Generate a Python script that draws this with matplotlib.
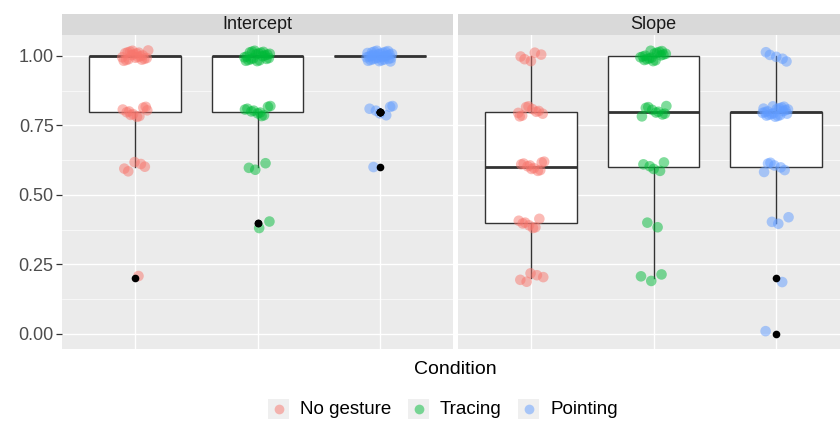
import numpy as np
import matplotlib
matplotlib.use("Agg")
import matplotlib.pyplot as plt
from matplotlib.patches import Rectangle
from matplotlib.lines import Line2D

plt.rcParams['font.family'] = ['Liberation Sans', 'DejaVu Sans']

# ---------------- data ----------------
conditions = ["No gesture", "Tracing", "Pointing"]
panels = ["Intercept", "Slope"]
score_levels = [0.0, 0.2, 0.4, 0.6, 0.8, 1.0]
# number of participants at each score level (same order as score_levels)
intercept_no_gesture = [0, 1, 0, 5, 10, 20]
intercept_tracing = [0, 0, 2, 3, 10, 21]
intercept_pointing = [0, 0, 0, 1, 6, 29]
slope_no_gesture = [0, 5, 7, 10, 9, 5]
slope_tracing = [0, 3, 2, 5, 9, 17]
slope_pointing = [1, 1, 3, 6, 20, 5]
y_ticks = [0.0, 0.25, 0.5, 0.75, 1.0]
y_tick_labels = ["0.00", "0.25", "0.50", "0.75", "1.00"]
colors = ["#F8766D", "#00BA38", "#619CFF"]

panel_counts = {
    "Intercept": [intercept_no_gesture, intercept_tracing, intercept_pointing],
    "Slope": [slope_no_gesture, slope_tracing, slope_pointing],
}

# ---------------- figure ----------------
W, H = 840, 421
fig = plt.figure(figsize=(W / 100, H / 100), dpi=100)
fig.patch.set_facecolor("white")


def fx(px):
    return px / W


def fy(py):
    return 1 - py / H


panel_left = [62, 458]
panel_w = 391
panel_top, panel_bot = 35, 349
strip_top = 14

GOLD = 0.6180339887
SQ2 = 0.4142135624

for p, name in enumerate(panels):
    x0 = panel_left[p]
    ax = fig.add_axes([fx(x0), fy(panel_bot), panel_w / W, (panel_bot - panel_top) / H])
    ax.set_facecolor("#EBEBEB")

    groups = [np.repeat(score_levels, c) for c in panel_counts[name]]
    ax.boxplot(
        groups, positions=[1, 2, 3], widths=0.75, whis=1.5, patch_artist=True,
        showcaps=False,
        boxprops=dict(facecolor="white", edgecolor="#333333", lw=1.0),
        medianprops=dict(color="#333333", lw=2.0),
        whiskerprops=dict(color="#333333", lw=1.0),
        flierprops=dict(marker="o", markerfacecolor="black", markeredgecolor="none",
                        markersize=5.5, zorder=5),
        zorder=2,
    )
    for g, vals in enumerate(groups):
        n = len(vals)
        k = np.arange(n) + 1 + g * 7 + p * 3
        jx = ((k * GOLD) % 1.0) * 2 - 1
        jy = ((k * SQ2 + 0.3) % 1.0) * 2 - 1
        ax.scatter(g + 1 + 0.11 * jx, vals + 0.02 * jy, s=58, color=colors[g],
                   alpha=0.5, edgecolors="none", zorder=4)

    ax.set_xlim(0.4, 3.6)
    ax.set_ylim(-0.054, 1.0755)
    for s in ax.spines.values():
        s.set_visible(False)
    ax.set_xticks([1, 2, 3])
    ax.set_xticklabels([])
    ax.set_yticks(y_ticks)
    ax.set_yticks([0.125, 0.375, 0.625, 0.875], minor=True)
    ax.tick_params(axis="x", length=0)
    ax.tick_params(axis="y", which="minor", length=0)
    if p == 0:
        ax.set_yticklabels(y_tick_labels, fontsize=13, color="#4D4D4D")
        ax.tick_params(axis="y", which="major", length=4, width=0.9, color="#333333", pad=2)
    else:
        ax.set_yticklabels([])
        ax.tick_params(axis="y", which="major", length=0)
    ax.grid(True, which="major", color="white", lw=1.0)
    ax.grid(True, which="minor", axis="y", color="white", lw=0.45)
    ax.set_axisbelow(True)

    # strip
    sax = fig.add_axes([fx(x0), fy(panel_top), panel_w / W, (panel_top - strip_top) / H])
    sax.set_facecolor("#D9D9D9")
    sax.set_xticks([])
    sax.set_yticks([])
    for s in sax.spines.values():
        s.set_visible(False)
    sax.text(0.5, 0.48, name, transform=sax.transAxes, ha="center", va="center",
             fontsize=13, color="#1A1A1A")

# x axis title
fig.text(fx(455.5), fy(369), "Condition", ha="center", va="center", fontsize=14, color="black")

# legend (bottom)
key_x = [268, 408, 518]
text_x = [300, 440, 551]
ly = 409
for i, lab in enumerate(conditions):
    fig.patches.append(Rectangle((fx(key_x[i]), fy(ly + 10)), 21 / W, 20 / H,
                                 transform=fig.transFigure, facecolor="#EFEFEF",
                                 edgecolor="none"))
    fig.lines.append(Line2D([fx(key_x[i] + 10.5)], [fy(ly)], transform=fig.transFigure,
                            marker="o", markersize=7, color=colors[i], alpha=0.5,
                            markeredgecolor="none", linestyle="none"))
    fig.text(fx(text_x[i]), fy(ly), lab, ha="left", va="center", fontsize=13.5,
             color="black")

fig.savefig("out.png", dpi=100)
